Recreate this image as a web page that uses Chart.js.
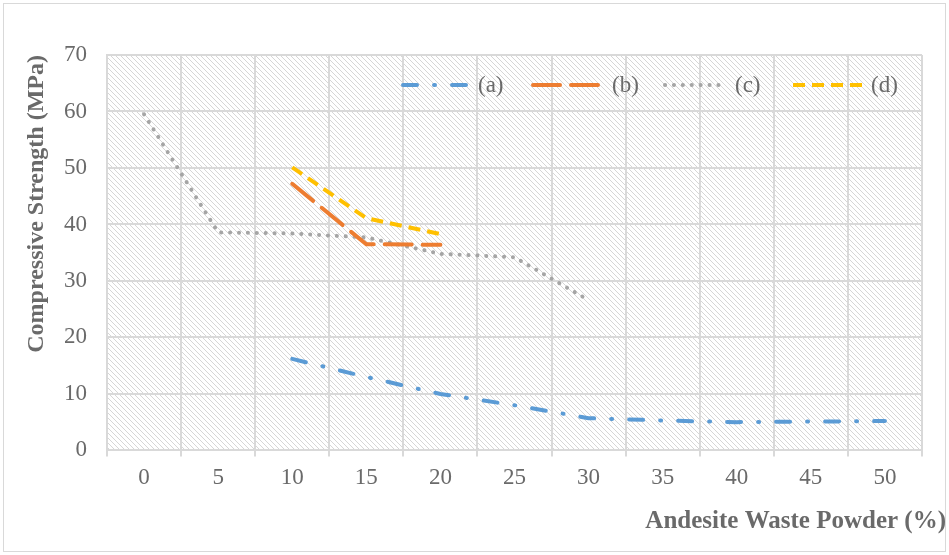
<!DOCTYPE html>
<html lang="en">
<head>
    <meta charset="UTF-8">
    <title>Compressive Strength</title>
    <style>
        body { margin: 0; background: #fff; }
        #main { width: 949px; height: 555px; }
    </style>
    <script src="https://cdn.jsdelivr.net/npm/chart.js@4.4.0/dist/chart.umd.min.js"></script>
</head>
<body>
    <div id="main">
        <canvas id="graph" width="949" height="555"></canvas>
    </div>
    <script>
        // data
        const categories = ['0', '5', '10', '15', '20', '25', '30', '35', '40', '45', '50'];
        const seriesA = [null, null, 16.2, 13.0, 10.0, 8.0, 5.7, 5.3, 5.0, 5.1, 5.2];
        const seriesB = [null, null, 47.2, 36.5, 36.4, null, null, null, null, null, null];
        const seriesC = [59.5, 38.6, 38.4, 37.7, 34.8, 34.2, 26.6, null, null, null, null];
        const seriesD = [null, null, 50.1, 41.1, 38.3, null, null, null, null, null, null];
        const labels = ['(a)', '(b)', '(c)', '(d)'];
        const yMin = 0, yMax = 70, yStep = 10;
        const xTitle = 'Andesite Waste Powder (%)';
        const yTitle = 'Compressive Strength (MPa)';

        const grey = '#6a6a6a';
        const serif = "'Liberation Serif', 'Times New Roman', serif";

        // hatch pattern for the plot area
        function makeHatch(){
            const pc = document.createElement('canvas');
            pc.width = 5; pc.height = 5;
            const p = pc.getContext('2d');
            p.strokeStyle = '#d6d6d6';
            p.lineWidth = 1;
            p.beginPath();
            p.moveTo(-1, -1); p.lineTo(6, 6);
            p.moveTo(-1, 4); p.lineTo(1, 6);
            p.moveTo(4, -1); p.lineTo(6, 1);
            p.stroke();
            return p.createPattern(pc, 'repeat');
        }

        const hatchPlugin = {
            id: 'hatch',
            beforeDraw(chart){
                const {ctx, chartArea} = chart;
                ctx.save();
                ctx.fillStyle = '#ffffff';
                ctx.fillRect(0, 0, chart.width, chart.height);
                ctx.fillStyle = makeHatch();
                ctx.fillRect(chartArea.left, chartArea.top, chartArea.right - chartArea.left, chartArea.bottom - chartArea.top);
                ctx.restore();
            },
            afterDraw(chart){
                const ctx = chart.ctx;
                ctx.save();
                // x axis title, right aligned to the chart edge
                ctx.fillStyle = grey;
                ctx.font = 'bold 25px ' + serif;
                ctx.textAlign = 'right';
                ctx.textBaseline = 'middle';
                ctx.fillText(xTitle, chart.width - 3, 522);
                // chart border
                ctx.strokeStyle = '#d9d9d9';
                ctx.lineWidth = 1;
                ctx.strokeRect(3.5, 3.5, chart.width - 7, chart.height - 7);
                ctx.restore();
            }
        };

        // legend drawn inside the plot area, top right
        const legendPlugin = {
            id: 'innerLegend',
            afterDatasetsDraw(chart){
                const ctx = chart.ctx;
                const starts = [403, 533, 665, 793];
                const lens = [67, 71, 62, 70];
                const y = 85;
                ctx.save();
                chart.data.datasets.forEach((ds, i) => {
                    ctx.beginPath();
                    ctx.strokeStyle = ds.borderColor;
                    ctx.lineWidth = ds.borderWidth;
                    ctx.lineCap = ds.borderCapStyle || 'butt';
                    ctx.setLineDash(ds.borderDash || []);
                    ctx.moveTo(starts[i], y);
                    ctx.lineTo(starts[i] + lens[i], y);
                    ctx.stroke();
                    ctx.setLineDash([]);
                    ctx.fillStyle = grey;
                    ctx.font = '23px ' + serif;
                    ctx.textBaseline = 'middle';
                    ctx.fillText(ds.label, starts[i] + lens[i] + 8, y + 1);
                });
                ctx.restore();
            }
        };

        let ctx = document.getElementById('graph').getContext('2d');
        let dataGraph = {
            labels: categories,
            datasets: [{
                label: labels[0],
                data: seriesA,
                borderColor: '#5b9bd5',
                borderWidth: 4,
                borderDash: [14, 17, 1, 17],
                borderCapStyle: 'round',
                pointRadius: 0,
                tension: 0
            }, {
                label: labels[1],
                data: seriesB,
                borderColor: '#ed7d31',
                borderWidth: 4,
                borderDash: [27, 11],
                borderCapStyle: 'round',
                pointRadius: 0,
                tension: 0
            }, {
                label: labels[2],
                data: seriesC,
                borderColor: '#a5a5a5',
                borderWidth: 4,
                borderDash: [0.1, 8.8],
                borderCapStyle: 'round',
                pointRadius: 0,
                tension: 0
            }, {
                label: labels[3],
                data: seriesD,
                borderColor: '#ffc000',
                borderWidth: 4,
                borderDash: [12, 7],
                borderCapStyle: 'butt',
                pointRadius: 0,
                tension: 0
            }]
        };

        let config = {
            type: 'line',
            data: dataGraph,
            options: {
                responsive: false,
                animation: false,
                devicePixelRatio: 1,
                layout: { padding: { top: 55, right: 27, left: 22, bottom: 55 } },
                plugins: {
                    legend: { display: false },
                    tooltip: { enabled: false }
                },
                scales: {
                    x: {
                        type: 'category',
                        offset: true,
                        grid: {
                            offset: true,
                            color: '#d9d9d9',
                            lineWidth: 2,
                            tickLength: 6,
                            drawTicks: true
                        },
                        border: { color: '#d9d9d9', width: 2 },
                        ticks: {
                            color: grey,
                            font: { family: serif, size: 23 },
                            padding: 8,
                            maxRotation: 0
                        }
                    },
                    y: {
                        min: yMin,
                        max: yMax,
                        afterFit(scale){ scale.width = 85; },
                        grid: { color: '#d9d9d9', lineWidth: 2, drawTicks: false },
                        border: { color: '#d9d9d9', width: 2 },
                        ticks: {
                            stepSize: yStep,
                            color: grey,
                            font: { family: serif, size: 23 },
                            padding: 20
                        },
                        title: {
                            display: true,
                            text: yTitle,
                            align: 'end',
                            color: grey,
                            font: { family: serif, size: 24, weight: 'bold' },
                            padding: { top: 0, bottom: 0 }
                        }
                    }
                }
            },
            plugins: [hatchPlugin, legendPlugin]
        };
        let graph = new Chart(ctx, config);
    </script>
</body>
</html>
